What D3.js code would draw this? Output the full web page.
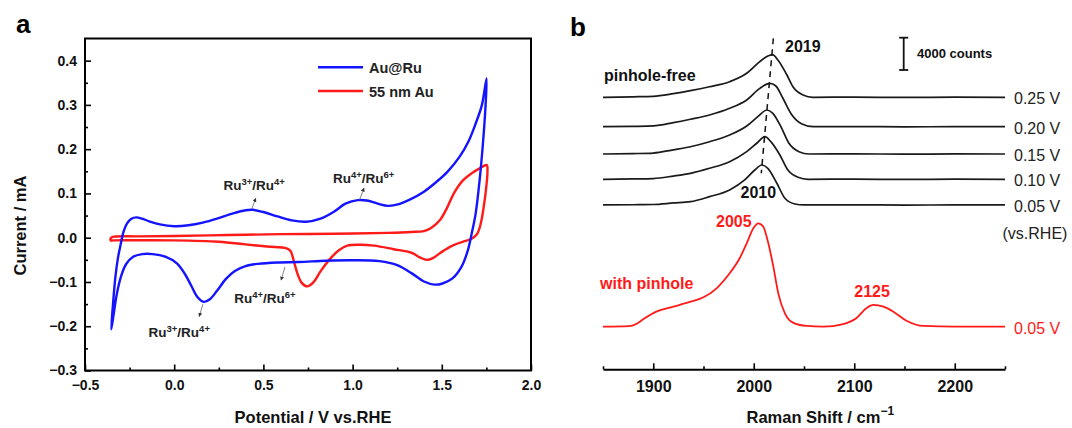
<!DOCTYPE html>
<html><head><meta charset="utf-8">
<script src="https://cdn.jsdelivr.net/npm/d3@7"></script>
<style>
body{margin:0;background:#fff}
svg{display:block}
text{font-family:"Liberation Sans",Arial,Helvetica,sans-serif}
</style>
</head><body>
<svg id="chart" width="1072" height="428"></svg>
<script>
// ---------------- Panel a data (CV) ----------------
const cvXTicks = [-0.5, 0.0, 0.5, 1.0, 1.5, 2.0];
const cvXMinor = [-0.25, 0.25, 0.75, 1.25, 1.75];
const cvYTicks = [-0.3, -0.2, -0.1, 0.0, 0.1, 0.2, 0.3, 0.4];
const cvYMinor = [-0.25, -0.15, -0.05, 0.05, 0.15, 0.25, 0.35];
const cvSeriesNames = ["Au@Ru", "55 nm Au"];
const cvSeriesColors = ["#1414ff", "#ff1a1a"];
// potential (V), current (mA), closed loop
const auRuCV = [
  [-0.353,-0.207],[-0.343,-0.150],[-0.330,-0.090],[-0.315,-0.045],[-0.300,-0.015],
  [-0.283,0.015],[-0.265,0.032],[-0.240,0.043],[-0.212,0.046],[-0.180,0.043],
  [-0.140,0.037],[-0.080,0.030],[0.000,0.026],[0.080,0.028],[0.160,0.034],
  [0.240,0.043],[0.330,0.055],[0.400,0.062],[0.440,0.063],[0.500,0.058],
  [0.580,0.048],[0.660,0.039],[0.740,0.036],[0.820,0.043],[0.900,0.060],
  [0.960,0.077],[1.030,0.085],[1.080,0.084],[1.140,0.077],[1.200,0.072],
  [1.260,0.076],[1.320,0.086],[1.400,0.104],[1.470,0.126],[1.530,0.148],
  [1.600,0.183],[1.650,0.218],[1.690,0.258],[1.725,0.300],[1.751,0.360],
  [1.744,0.290],[1.730,0.210],[1.712,0.130],[1.690,0.055],[1.668,0.010],
  [1.645,-0.030],[1.610,-0.066],[1.560,-0.092],[1.500,-0.104],[1.460,-0.106],
  [1.400,-0.099],[1.330,-0.080],[1.250,-0.062],[1.150,-0.053],[1.000,-0.051],
  [0.850,-0.052],[0.700,-0.055],[0.580,-0.056],[0.470,-0.059],[0.400,-0.064],
  [0.340,-0.075],[0.290,-0.093],[0.240,-0.120],[0.200,-0.139],[0.165,-0.145],
  [0.130,-0.134],[0.095,-0.108],[0.060,-0.082],[0.015,-0.058],[-0.050,-0.043],
  [-0.120,-0.037],[-0.180,-0.037],[-0.230,-0.043],[-0.270,-0.060],[-0.300,-0.090],
  [-0.322,-0.128],[-0.340,-0.175]
];
const au55CV = [
  [-0.355,-0.001],[-0.345,0.002],[-0.200,0.003],[0.000,0.004],[0.300,0.006],
  [0.600,0.008],[0.900,0.009],[1.200,0.011],[1.330,0.013],[1.400,0.015],
  [1.440,0.022],[1.490,0.040],[1.530,0.068],[1.570,0.102],[1.620,0.130],
  [1.670,0.146],[1.710,0.156],[1.752,0.164],[1.756,0.150],[1.748,0.110],
  [1.735,0.070],[1.720,0.035],[1.700,0.010],[1.670,-0.002],[1.620,-0.009],
  [1.560,-0.018],[1.500,-0.032],[1.450,-0.046],[1.415,-0.050],[1.380,-0.045],
  [1.330,-0.034],[1.230,-0.026],[1.120,-0.018],[1.040,-0.016],[0.970,-0.018],
  [0.925,-0.028],[0.880,-0.045],[0.820,-0.076],[0.780,-0.101],[0.745,-0.110],
  [0.715,-0.102],[0.690,-0.080],[0.670,-0.052],[0.652,-0.030],[0.630,-0.024],
  [0.520,-0.020],[0.400,-0.015],[0.250,-0.009],[0.000,-0.006],[-0.340,-0.006],
  [-0.356,-0.006]
];
// annotations: label position (V, mA), arrow from -> to (V, mA)
const cvAnnotations = [
  {a:"3+", b:"4+", x:0.276, y:0.108, from:[0.435,0.065], to:[0.457,0.089]},
  {a:"4+", b:"6+", x:0.890, y:0.124, from:[1.038,0.085], to:[1.064,0.112]},
  {a:"4+", b:"6+", x:0.336, y:-0.148, from:[0.621,-0.066], to:[0.599,-0.096]},
  {a:"3+", b:"4+", x:-0.144, y:-0.225, from:[0.161,-0.150], to:[0.140,-0.178]}
];

// ---------------- Panel b data (Raman) ----------------
const ramanXTicks = [1900, 2000, 2100, 2200];
const ramanXMinor = [1850, 1950, 2050, 2150, 2250];
const potentials = ["0.05 V", "0.10 V", "0.15 V", "0.20 V", "0.25 V"];
const offsets = [15070, 18250, 21380, 24760, 28400]; // counts
const spec005 = [[1850,0],[1880,30],[1900,60],[1920,250],[1937,410],[1956,1030],[1976,1860],[1991,3100],[2001,4330],[2008,4950],[2014,4540],[2023,2690],[2031,830],[2041,120],[2050,0],[2100,20],[2150,-20],[2200,10],[2250,0]];
const spec010 = [[1850,0],[1880,40],[1900,90],[1920,400],[1937,740],[1956,1360],[1976,2180],[1993,3420],[2003,4460],[2011,5270],[2017,4660],[2026,3010],[2034,1150],[2044,250],[2054,0],[2100,20],[2150,-20],[2200,10],[2250,0]];
const spec015 = [[1850,0],[1880,50],[1900,120],[1920,520],[1937,900],[1956,1520],[1976,2350],[1993,3470],[2004,4620],[2013,5450],[2019,5040],[2027,3380],[2035,1320],[2045,280],[2055,0],[2100,20],[2150,-20],[2200,10],[2250,0]];
const spec020 = [[1850,0],[1880,40],[1900,100],[1920,500],[1937,920],[1956,1450],[1976,2280],[1993,3310],[2006,4750],[2016,5370],[2022,5040],[2029,3520],[2038,1450],[2048,330],[2059,0],[2100,20],[2150,-20],[2200,10],[2250,0]];
const spec025 = [[1850,0],[1880,60],[1900,120],[1920,450],[1937,820],[1956,1310],[1976,1930],[1993,2970],[2006,4410],[2014,5110],[2019,5240],[2024,4620],[2033,2760],[2039,1310],[2049,290],[2059,0],[2100,20],[2150,-20],[2200,10],[2250,0]];
const pinholeSpec = [[1850,0],[1876,60],[1883,330],[1890,920],[1903,1860],[1920,2480],[1937,3100],[1950,3640],[1963,4750],[1976,6610],[1986,8470],[1993,10330],[1999.6,12180],[2004.5,12800],[2009.5,12380],[2014.5,10330],[2019.5,7430],[2024.4,4130],[2031,1660],[2039,500],[2052.7,90],[2069,0],[2089,330],[2102,1040],[2112,2280],[2119,2690],[2129,2480],[2139,1860],[2152,740],[2169,90],[2200,0],[2235,0],[2250,0]];
const pinholeOffset = 0;
const peakShiftLine = [[2019.5,35700],[2007.5,18990]];
const scaleBarCounts = 4000;
const scaleBarBottom = 31780;

// ---------------- Drawing ----------------
const svg = d3.select("#chart");
svg.append("rect").attr("width",1072).attr("height",428).attr("fill","#fff");

const defs = svg.append("defs");
defs.append("marker").attr("id","arr").attr("viewBox","0 0 10 10")
  .attr("refX",9).attr("refY",5).attr("markerWidth",5).attr("markerHeight",5)
  .attr("orient","auto")
  .append("path").attr("d","M0,0L10,5L0,10z").attr("fill","#333");

// ===== Panel a =====
const ax = {l:85, r:531, t:38.5, b:370.5};
const x = d3.scaleLinear().domain([-0.5,2.0]).range([ax.l, ax.r]);
const y = d3.scaleLinear().domain([-0.3,0.45]).range([ax.b, ax.t]);
const ga = svg.append("g");

const fmt = d => (d<0 ? "\u2212" : "") + Math.abs(d).toFixed(1);

ga.append("g").attr("transform",`translate(0,${ax.b})`)
  .call(d3.axisBottom(x).tickValues(cvXTicks).tickFormat(fmt).tickSizeInner(-6).tickSizeOuter(0).tickPadding(10));
ga.append("g").attr("transform",`translate(0,${ax.b})`)
  .call(d3.axisBottom(x).tickValues(cvXMinor).tickFormat("").tickSizeInner(-3).tickSizeOuter(0))
  .call(g=>g.select(".domain").remove());
ga.append("g").attr("transform",`translate(${ax.l},0)`)
  .call(d3.axisLeft(y).tickValues(cvYTicks).tickFormat(fmt).tickSizeInner(-6).tickSizeOuter(0).tickPadding(8));
ga.append("g").attr("transform",`translate(${ax.l},0)`)
  .call(d3.axisLeft(y).tickValues(cvYMinor).tickFormat("").tickSizeInner(-3).tickSizeOuter(0))
  .call(g=>g.select(".domain").remove());
ga.selectAll(".tick line").attr("stroke","#000").attr("stroke-width",1.6);
ga.selectAll(".domain").remove();
ga.selectAll(".tick text").attr("font-size",14).attr("font-weight","bold").attr("fill","#111")
  .attr("font-family","'Liberation Sans',Arial,sans-serif");
ga.append("rect").attr("x",ax.l).attr("y",ax.t).attr("width",ax.r-ax.l).attr("height",ax.b-ax.t)
  .attr("fill","none").attr("stroke","#000").attr("stroke-width",2);

const cvLine = d3.line().x(d=>x(d[0])).y(d=>y(d[1])).curve(d3.curveCatmullRomClosed.alpha(0.5));
[au55CV, auRuCV].forEach((data,i)=>{
  ga.append("path").attr("d",cvLine(data)).attr("fill","none")
    .attr("stroke", cvSeriesColors[1-i]).attr("stroke-width",2.4).attr("stroke-linejoin","round");
});

cvSeriesNames.forEach((n,i)=>{
  const ly = 67.3 + i*23.7;
  ga.append("line").attr("x1",318).attr("x2",363).attr("y1",ly).attr("y2",ly)
    .attr("stroke",cvSeriesColors[i]).attr("stroke-width",2.4);
  ga.append("text").attr("x",369).attr("y",ly+5.5).attr("font-size",14.5).attr("font-weight","bold")
    .attr("fill","#222").text(n);
});

cvAnnotations.forEach(a=>{
  ga.append("line").attr("x1",x(a.from[0])).attr("y1",y(a.from[1]))
    .attr("x2",x(a.to[0])).attr("y2",y(a.to[1]))
    .attr("stroke","#666").attr("stroke-width",0.8).attr("marker-end","url(#arr)");
  const t = ga.append("text").attr("x",x(a.x)).attr("y",y(a.y)).attr("font-size",13.5)
    .attr("font-weight","bold").attr("fill","#222");
  t.append("tspan").text("Ru");
  t.append("tspan").attr("dy",-5).attr("font-size",9.5).text(a.a);
  t.append("tspan").attr("dy",5).text("/Ru");
  t.append("tspan").attr("dy",-5).attr("font-size",9.5).text(a.b);
});

ga.append("text").attr("x",(ax.l+ax.r)/2+5).attr("y",423).attr("text-anchor","middle")
  .attr("font-size",16.5).attr("font-weight","bold").attr("fill","#111").text("Potential / V vs.RHE");
ga.append("text").attr("transform",`translate(25.5,${(ax.t+ax.b)/2+21}) rotate(-90)`)
  .attr("text-anchor","middle").attr("font-size",16.5).attr("font-weight","bold").attr("fill","#111")
  .text("Current / mA");
svg.append("text").attr("x",16).attr("y",33).attr("font-size",26).attr("font-weight","bold").text("a");

// ===== Panel b =====
const xb = d3.scaleLinear().domain([1850,2250]).range([603,1005]);
const yb = d3.scaleLinear().domain([0,40000]).range([326.7, 326.7-40000/123.8]);
const gb = svg.append("g");
const axisY = 369.3;
gb.append("g").attr("transform",`translate(0,${axisY})`)
  .call(d3.axisBottom(xb).tickValues(ramanXTicks).tickFormat(d3.format("d")).tickSizeInner(-6).tickSizeOuter(0).tickPadding(11));
gb.append("g").attr("transform",`translate(0,${axisY})`)
  .call(d3.axisBottom(xb).tickValues(ramanXMinor).tickFormat("").tickSizeInner(-3).tickSizeOuter(0))
  .call(g=>g.select(".domain").remove());
gb.selectAll(".domain").attr("stroke","#000").attr("stroke-width",2);
gb.selectAll(".tick line").attr("stroke","#000").attr("stroke-width",1.6);
gb.selectAll(".tick text").attr("font-size",16).attr("font-weight","bold").attr("fill","#111")
  .attr("font-family","'Liberation Sans',Arial,sans-serif");

const specLine = off => d3.line().x(d=>xb(d[0])).y(d=>yb(d[1]+off)).curve(d3.curveMonotoneX);
const blackSpecs = [spec005, spec010, spec015, spec020, spec025];
blackSpecs.forEach((s,i)=>{
  gb.append("path").attr("d",specLine(offsets[i])(s)).attr("fill","none")
    .attr("stroke","#1a1a1a").attr("stroke-width",1.7).attr("stroke-linejoin","round");
  gb.append("text").attr("x",1014).attr("y",yb(offsets[i])+7).attr("font-size",16)
    .attr("fill","#222").text(potentials[i]);
});
gb.append("path").attr("d",specLine(pinholeOffset)(pinholeSpec)).attr("fill","none")
  .attr("stroke","#ff1a1a").attr("stroke-width",1.8).attr("stroke-linejoin","round");
gb.append("text").attr("x",1014).attr("y",yb(pinholeOffset)+7).attr("font-size",16)
  .attr("fill","#ff1a1a").text("0.05 V");
gb.append("text").attr("x",1002.5).attr("y",239).attr("font-size",16).attr("fill","#222").text("(vs.RHE)");

gb.append("line").attr("x1",xb(peakShiftLine[0][0])).attr("y1",yb(peakShiftLine[0][1]))
  .attr("x2",xb(peakShiftLine[1][0])).attr("y2",yb(peakShiftLine[1][1]))
  .attr("stroke","#111").attr("stroke-width",1.5).attr("stroke-dasharray","6,5");

const sbx = 903.7;
const sbTop = yb(scaleBarBottom+scaleBarCounts), sbBot = yb(scaleBarBottom);
gb.append("line").attr("x1",sbx).attr("x2",sbx).attr("y1",sbTop).attr("y2",sbBot).attr("stroke","#111").attr("stroke-width",1.8);
[sbTop,sbBot].forEach(v=>gb.append("line").attr("x1",sbx-4.5).attr("x2",sbx+4.5).attr("y1",v).attr("y2",v).attr("stroke","#111").attr("stroke-width",1.8));
gb.append("text").attr("x",917).attr("y",58).attr("font-size",13).attr("font-weight","bold").attr("fill","#111").text("4000 counts");

const lab = (t,xx,yy,col)=>gb.append("text").attr("x",xx).attr("y",yy).attr("font-size",16)
  .attr("font-weight","bold").attr("fill",col).text(t);
lab("2019",785,51.7,"#111");
lab("2010",740.5,197.7,"#111");
lab("pinhole-free",604,80.7,"#111");
lab("with pinhole",600,289.3,"#ff1a1a");
lab("2005",716,227.3,"#ff1a1a");
lab("2125",854.3,297.3,"#ff1a1a");

const xt = gb.append("text").attr("x",746.5).attr("y",423).attr("font-size",16.5).attr("font-weight","bold").attr("fill","#111");
xt.append("tspan").text("Raman Shift / cm");
xt.append("tspan").attr("dy",-8).attr("font-size",12).text("\u22121");

svg.append("text").attr("x",570).attr("y",36).attr("font-size",26).attr("font-weight","bold").text("b");
</script>
</body></html>
